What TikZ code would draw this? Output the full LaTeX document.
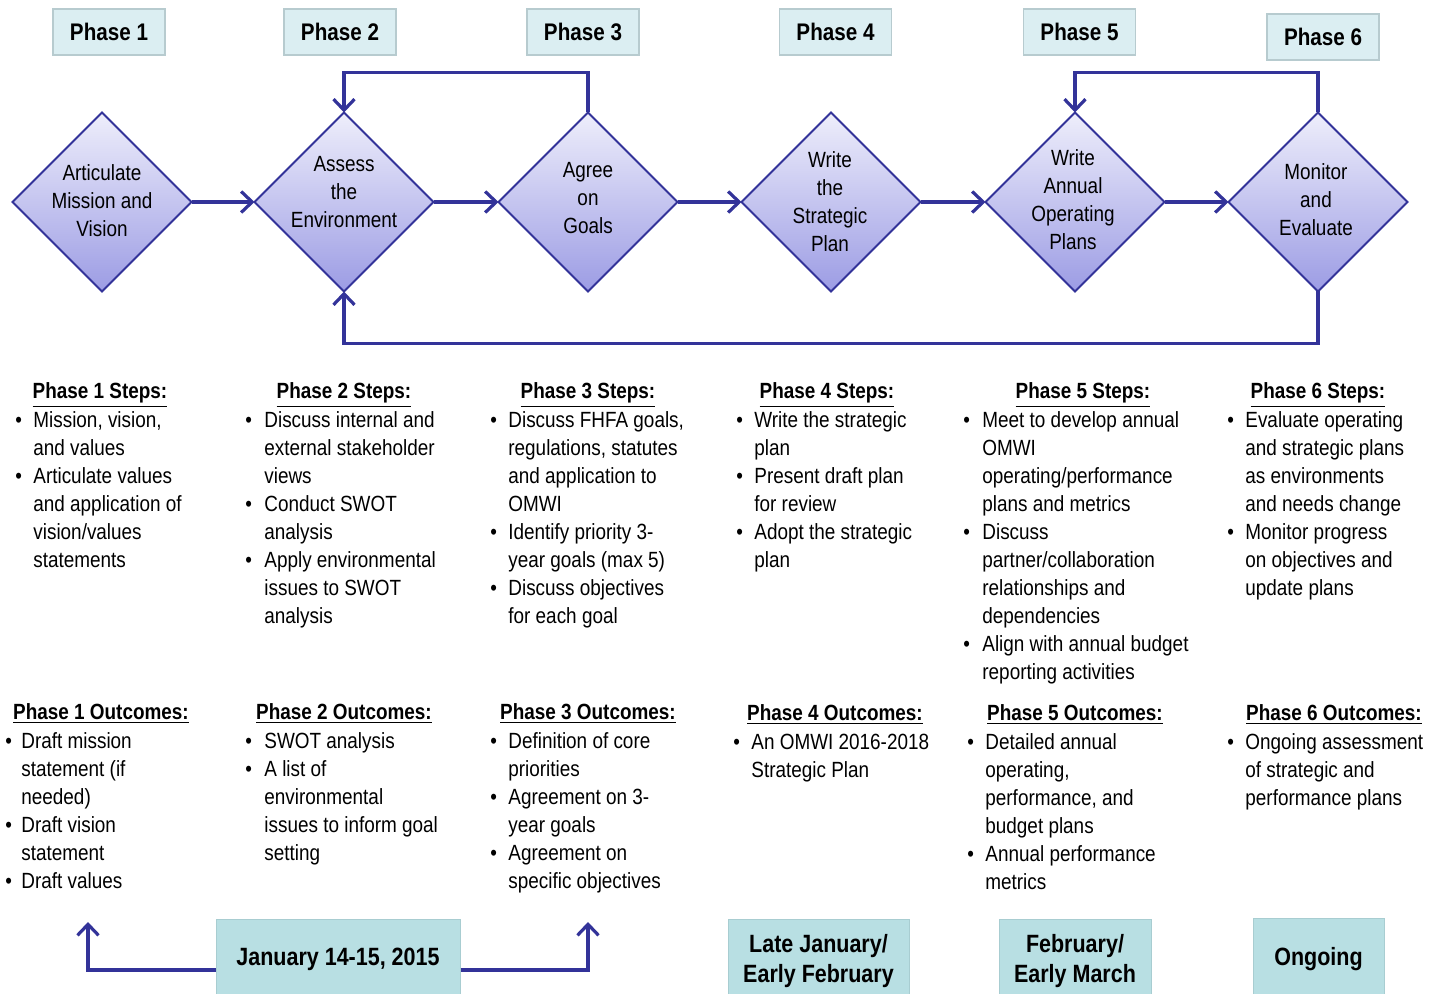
\documentclass[tikz,border=0pt]{standalone}
\usepackage{fontspec}
\setmainfont{Liberation Sans}[FakeStretch=0.86]
\usetikzlibrary{shapes.geometric,arrows.meta}
\definecolor{dblue}{RGB}{51,51,153}
\definecolor{diatop}{RGB}{238,238,251}
\definecolor{diabot}{RGB}{156,156,228}
\definecolor{phasefill}{RGB}{219,238,242}
\definecolor{phaseedge}{RGB}{183,203,207}
\definecolor{datefill}{RGB}{184,223,227}
\definecolor{dateedge}{RGB}{168,205,209}
\newcommand\bul[1][9pt]{\makebox[#1][l]{•}}
\begin{document}
\begin{tikzpicture}[x=0.5pt,y=-0.5pt,
  phasebox/.style={draw=phaseedge, fill=phasefill, line width=0.6pt, minimum width=56pt, minimum height=23pt, inner sep=0, font=\fontsize{12}{14}\selectfont\bfseries},
  dia/.style={diamond, draw=dblue, line width=1pt, minimum width=89.5pt, minimum height=89.5pt, inner sep=0, outer sep=0, top color=diatop, bottom color=diabot},
  diatext/.style={align=center, font=\fontsize{11}{14}\selectfont, inner sep=0},
  arr/.style={draw=dblue, line width=1.6pt, -{Straight Barb[length=5.5pt,width=10.5pt]}},
  head/.style={anchor=base, font=\fontsize{11}{14}\selectfont\bfseries, inner sep=0},
  list/.style={anchor=base west, font=\fontsize{11}{14}\selectfont, inner sep=0},
  datebox/.style={fill=datefill, draw=dateedge, line width=0.5pt, inner sep=0, font=\fontsize{12.5}{15}\selectfont\bfseries, align=center}
]
\useasboundingbox (0,0) rectangle (1436,994);

% phase titles
\node[phasebox] (p1) at (109,32) {Phase 1};
\node[phasebox] (p2) at (340,32) {Phase 2};
\node[phasebox] (p3) at (583,32) {Phase 3};
\node[phasebox] (p4) at (835.5,32) {Phase 4};
\node[phasebox] (p5) at (1079.5,32) {Phase 5};
\node[phasebox] (p6) at (1323,37) {Phase 6};

% diamonds
\node[dia] (d1) at (102,202) {};
\node[dia] (d2) at (344,202) {};
\node[dia] (d3) at (588,202) {};
\node[dia] (d4) at (831,202) {};
\node[dia] (d5) at (1075,202) {};
\node[dia] (d6) at (1318,202) {};
\node[diatext] (d1t) at (102,201) {Articulate\\Mission and\\Vision};
\node[diatext] (d2t) at (344,192) {Assess\\the\\Environment};
\node[diatext] (d3t) at (588,198) {Agree\\on\\Goals};
\node[diatext] (d4t) at (830,202) {Write\\the\\Strategic\\Plan};
\node[diatext] (d5t) at (1073,200) {Write\\Annual\\Operating\\Plans};
\node[diatext] (d6t) at (1316,200) {Monitor\\and\\Evaluate};

% connectors
\draw[arr] (d1.east) -- (d2.west);
\draw[arr] (d2.east) -- (d3.west);
\draw[arr] (d3.east) -- (d4.west);
\draw[arr] (d4.east) -- (d5.west);
\draw[arr] (d5.east) -- (d6.west);
\draw[arr] (d3.north) -- ++(0,-40) -| (d2.north);
\draw[arr] (d6.north) -- ++(0,-40) -| (d5.north);
\draw[arr] (d6.south) -- ++(0,52) -| (d2.south);

% steps
\node[head] (h1) at (100,399) {\underline{Phase 1 Steps:}};
\node[head] (h2) at (344,399) {\underline{Phase 2 Steps:}};
\node[head] (h3) at (588,399) {\underline{Phase 3 Steps:}};
\node[head] (h4) at (827,399) {\underline{Phase 4 Steps:}};
\node[head] (h5) at (1083,399) {\underline{Phase 5 Steps:}};
\node[head] (h6) at (1318,399) {\underline{Phase 6 Steps:}};

\node[list] (s1) at (15,428) {\begin{tabular}[t]{@{}l@{}l@{}}
\bul & Mission, vision,\\
 & and values\\
\bul & Articulate values\\
 & and application of\\
 & vision/values\\
 & statements
\end{tabular}};
\node[list] (s2) at (245,428) {\begin{tabular}[t]{@{}l@{}l@{}}
\bul[9.5pt] & Discuss internal and\\
 & external stakeholder\\
 & views\\
\bul[9.5pt] & Conduct SWOT\\
 & analysis\\
\bul[9.5pt] & Apply environmental\\
 & issues to SWOT\\
 & analysis
\end{tabular}};
\node[list] (s3) at (490,428) {\begin{tabular}[t]{@{}l@{}l@{}}
\bul & Discuss FHFA goals,\\
 & regulations, statutes\\
 & and application to\\
 & OMWI\\
\bul & Identify priority 3-\\
 & year goals (max 5)\\
\bul & Discuss objectives\\
 & for each goal
\end{tabular}};
\node[list] (s4) at (736,428) {\begin{tabular}[t]{@{}l@{}l@{}}
\bul & Write the strategic\\
 & plan\\
\bul & Present draft plan\\
 & for review\\
\bul & Adopt the strategic\\
 & plan
\end{tabular}};
\node[list] (s5) at (963,428) {\begin{tabular}[t]{@{}l@{}l@{}}
\bul[9.5pt] & Meet to develop annual\\
 & OMWI\\
 & operating/performance\\
 & plans and metrics\\
\bul[9.5pt] & Discuss\\
 & partner/collaboration\\
 & relationships and\\
 & dependencies\\
\bul[9.5pt] & Align with annual budget\\
 & reporting activities
\end{tabular}};
\node[list] (s6) at (1227,428) {\begin{tabular}[t]{@{}l@{}l@{}}
\bul & Evaluate operating\\
 & and strategic plans\\
 & as environments\\
 & and needs change\\
\bul & Monitor progress\\
 & on objectives and\\
 & update plans
\end{tabular}};

% outcomes
\node[head] (o1h) at (101,719) {\underline{Phase 1 Outcomes:}};
\node[head] (o2h) at (344,719) {\underline{Phase 2 Outcomes:}};
\node[head] (o3h) at (588,719) {\underline{Phase 3 Outcomes:}};
\node[head] (o4h) at (835,720) {\underline{Phase 4 Outcomes:}};
\node[head] (o5h) at (1075,720) {\underline{Phase 5 Outcomes:}};
\node[head] (o6h) at (1334,720) {\underline{Phase 6 Outcomes:}};

\node[list] (o1) at (5,748) {\begin{tabular}[t]{@{}l@{}l@{}}
\bul[8pt] & Draft mission\\
 & statement (if\\
 & needed)\\
\bul[8pt] & Draft vision\\
 & statement\\
\bul[8pt] & Draft values
\end{tabular}};
\node[list] (o2) at (245,748) {\begin{tabular}[t]{@{}l@{}l@{}}
\bul[9.5pt] & SWOT analysis\\
\bul[9.5pt] & A list of\\
 & environmental\\
 & issues to inform goal\\
 & setting
\end{tabular}};
\node[list] (o3) at (490,748) {\begin{tabular}[t]{@{}l@{}l@{}}
\bul & Definition of core\\
 & priorities\\
\bul & Agreement on 3-\\
 & year goals\\
\bul & Agreement on\\
 & specific objectives
\end{tabular}};
\node[list] (o4) at (733,749) {\begin{tabular}[t]{@{}l@{}l@{}}
\bul & An OMWI 2016-2018\\
 & Strategic Plan
\end{tabular}};
\node[list] (o5) at (967,749) {\begin{tabular}[t]{@{}l@{}l@{}}
\bul & Detailed annual\\
 & operating,\\
 & performance, and\\
 & budget plans\\
\bul & Annual performance\\
 & metrics
\end{tabular}};
\node[list] (o6) at (1227,749) {\begin{tabular}[t]{@{}l@{}l@{}}
\bul & Ongoing assessment\\
 & of strategic and\\
 & performance plans
\end{tabular}};

% dates
\node[datebox, minimum width=122pt, minimum height=40.5pt] (jan) at (338,959.5) {January 14-15, 2015};
\node[datebox, minimum width=90.5pt, minimum height=42pt] (late) at (818.5,961) {Late January/\\Early February};
\node[datebox, minimum width=76pt, minimum height=42pt] (feb) at (1075,961) {February/\\Early March};
\node[datebox, minimum width=65.5pt, minimum height=41pt] (ong) at (1318.5,959) {Ongoing};
\coordinate (t1) at (88,922);
\coordinate (t3) at (588,922);
\draw[arr] (jan.west) ++(0,10.5) -| (t1);
\draw[arr] (jan.east) ++(0,10.5) -| (t3);
\end{tikzpicture}
\end{document}
